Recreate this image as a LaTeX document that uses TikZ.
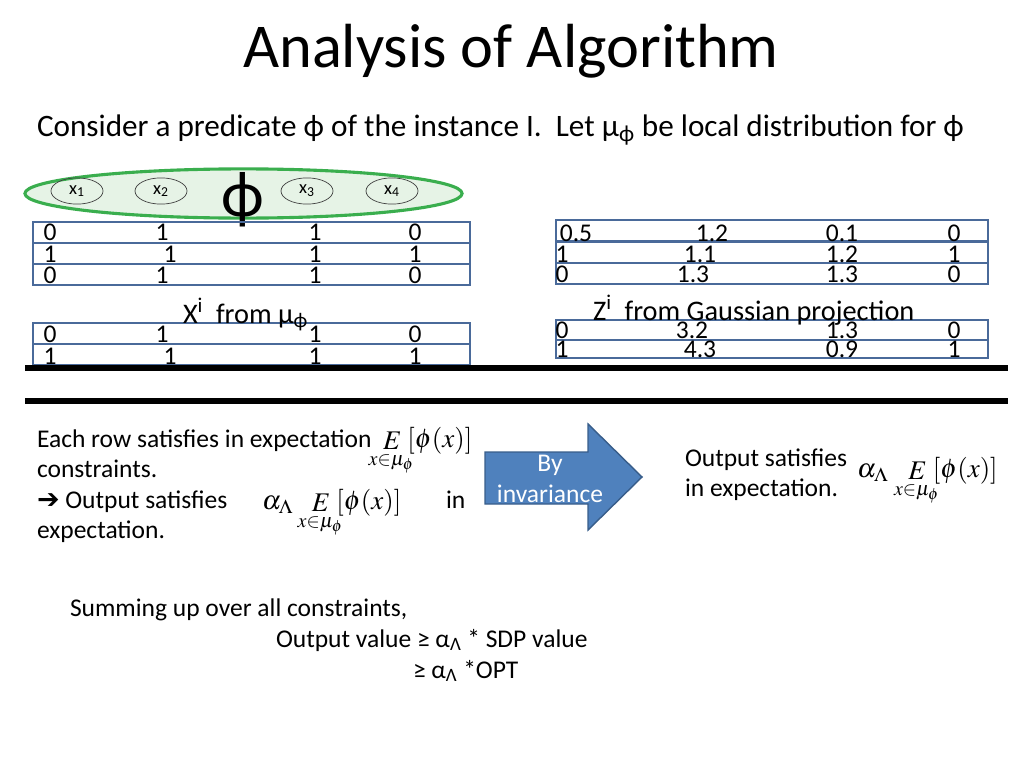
\documentclass[tikz,border=0pt]{standalone}
\usepackage{mathptmx}
\usepackage{mathtools}
\usepackage{fontspec}
\setmainfont{Carlito}
\newfontfamily\arrowfont{DejaVu Sans}
\usetikzlibrary{positioning, shapes.geometric}

\definecolor{rowblue}{HTML}{4A6A9A}
\definecolor{phigreen}{HTML}{3AAE4E}
\definecolor{phifill}{HTML}{E6F3E6}
\definecolor{arrowblue}{HTML}{4F81BD}
\definecolor{arrowedge}{HTML}{385D8A}

\newcommand{\expphi}{\mathop{E}\limits_{\mathclap{x\in\mu_\phi}}\;[\phi(x)]}

\begin{document}
\begin{tikzpicture}[x=0.0248cm, y=-0.0248cm,
every node/.style={inner sep=0pt, outer sep=0pt},
cell/.style={anchor=base, font=\fontsize{18}{18}\selectfont},
txt/.style={anchor=base west, font=\fontsize{18}{22}\selectfont},
big/.style={anchor=base west, font=\fontsize{20}{24}\selectfont},
mth/.style={anchor=base west, font=\fontsize{19}{23}\selectfont},
rowbox/.style={draw=rowblue, line width=2pt},
var/.style={draw=black!75, ellipse, line width=0.5pt, minimum width=1.29cm, minimum height=0.65cm, font=\fontsize{13}{13}\selectfont},
pred/.style={draw=phigreen, fill=phifill, ellipse, line width=2.2pt, minimum width=10.84cm, minimum height=1.22cm},
rule/.style={line width=4pt}]
\useasboundingbox (0,0) rectangle (1024,768);
%================================================================
% Title
\node[anchor=base, font=\fontsize{44}{44}\selectfont] (title) at (511,68) {Analysis of Algorithm};
\node[anchor=base west, font=\fontsize{22}{26}\selectfont] (intro) at (37,137)
  {Consider a predicate ϕ of the instance I.\ \ Let μ\textsubscript{ϕ} be local distribution for ϕ};

%================================================================
% Predicate
\node[pred] (phi) at (243.5,193.5) {};
\node[var] (x1) at (77,191) {x\textsubscript{1}};
\node[var] (x2) at (161,191) {x\textsubscript{2}};
\node[var] (x3) at (307,191) {x\textsubscript{3}};
\node[var] (x4) at (392,191) {x\textsubscript{4}};
\node[font=\fontsize{46}{46}\selectfont] (phisym) at (243,200) {ϕ};

% --------------------------------
% Rows X^i
\foreach \t in {222,243,264}
  \draw[rowbox] (33,\t) rectangle (470,\t+21);
\foreach \t in {323,344}
  \draw[rowbox] (33,\t) rectangle (470,\t+21);
\foreach \v/\x/\y [count=\i] in {0/50/240, 1/162/240, 1/315/240, 0/415/240,
  1/50/262, 1/170/262, 1/315/262, 1/415/262,
  0/50/283, 1/162/283, 1/315/283, 0/415/283,
  0/50/342, 1/162/342, 1/315/342, 0/415/342,
  1/50/364, 1/170/364, 1/315/364, 1/415/364}
  \node[cell] (xc\i) at (\x,\y) {\v};
\node[big] (xlab) at (183,323) {X\textsuperscript{i}\ \ from μ\textsubscript{ϕ}};

% --------------------------------
% Rows Z^i
\foreach \t in {220,242,263}
  \draw[rowbox] (556,\t) rectangle (988,\t+21);
\draw[rowbox] (556,320) rectangle (988,340);
\draw[rowbox] (556,340) rectangle (988,358);
\foreach \v/\x/\y [count=\i] in {0.5/576/241, 1.2/712/241, 0.1/842/241, 0/954/241,
  1/562/262, 1.1/700/262, 1.2/842/262, 1/954/262,
  0/562/282, 1.3/693/282, 1.3/842/282, 0/954/282,
  0/562/338, 3.2/692/338, 1.3/842/338, 0/954/338,
  1/562/357, 4.3/700/357, 0.9/842/357, 1/954/357}
  \node[cell] (zc\i) at (\x,\y) {\v};
\node[big] (zlab) at (593,320) {Z\textsuperscript{i}\ \ from Gaussian projection};

%================================================================
% Separators
\draw[rule] (25,368) -- (1008,368);
\draw[rule] (25,401) -- (1008,401);

%================================================================
% Left text
\node[txt] (l1) at (37,447) {Each row satisfies in expectation};
\node[mth] (m1) at (383,447) {$\displaystyle\expphi$};
\node[txt] (l2) at (37,477) {constraints.};
\node[txt] (l3) at (37,508) {{\arrowfont\bfseries\fontsize{19}{19}\selectfont ➔} Output satisfies};
\node[mth] (m2) at (262,509) {$\displaystyle\alpha_\Lambda\hspace{11pt}\expphi$};
\node[txt] (l3b) at (446,508) {in};
\node[txt] (l4) at (37,538) {expectation.};

% --------------------------------
% Arrow
\filldraw[fill=arrowblue, draw=arrowedge, line width=1pt] (485,452) -- (588,452) -- (588,424)
  -- (642,477) -- (588,530) -- (588,504) -- (485,504) -- cycle;
\node[cell, text=white] (by) at (550,471) {By};
\node[cell, text=white] (inv) at (550,502) {invariance};

% --------------------------------
% Right text
\node[txt] (r1) at (685,466) {Output satisfies};
\node[txt] (r2) at (685,496) {in expectation.};
\node[mth] (m3) at (857,477) {$\displaystyle\alpha_\Lambda\hspace{12pt}\expphi$};

%================================================================
% Summary
\node[txt] (s1) at (70,616) {Summing up over all constraints,};
\node[txt] (s2) at (276,647) {Output value ≥ α\textsubscript{Λ} * SDP value};
\node[txt] (s3) at (413,678) {≥ α\textsubscript{Λ} *OPT};

%================================================================
\end{tikzpicture}
\end{document}
